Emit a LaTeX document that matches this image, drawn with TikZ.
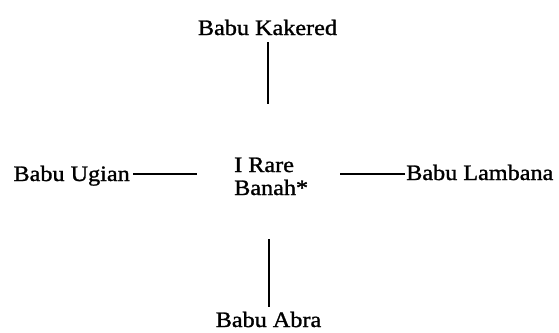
\documentclass[tikz,border=0pt]{standalone}
\usepackage{fontspec}
\setmainfont{Liberation Serif}[FakeStretch=1.1, FakeBold=1.2]

\begin{document}
\begin{tikzpicture}[x=1pt, y=-1pt,
        person/.style={inner sep=0pt, font=\fontsize{22}{23}\selectfont},
        link/.style={line width=2pt}]
        \useasboundingbox (0,0) rectangle (559,332);

        % Place the names
        \node[person, anchor=base] (kakered) at (267.5,35) {Babu Kakered};
        \node[person, anchor=base east] (ugian) at (130,181) {Babu Ugian};
        \node[person, anchor=base west] (lambana) at (406,180) {Babu Lambana};
        \node[person, anchor=base] (abra) at (268.5,327) {Babu Abra};
        \node[person, align=left, anchor=base west] (rare) at (234,195) {I Rare\\Banah*};

        % Draw the links to the centre
        \draw[link, shorten <=7pt, shorten >=53pt] (kakered.south) -- (kakered.south |- rare.north);
        \draw[link, shorten <=5pt, shorten >=44pt] (abra.north) -- (abra.north |- rare.south);
        \draw[link, shorten <=3pt, shorten >=37pt] ([yshift=7pt]ugian.base east) -- ([yshift=7pt]ugian.base east -| rare.west);
        \draw[link, shorten <=1pt, shorten >=32pt] ([yshift=6pt]lambana.base west) -- ([yshift=6pt]lambana.base west -| rare.east);
    \end{tikzpicture}
\end{document}
